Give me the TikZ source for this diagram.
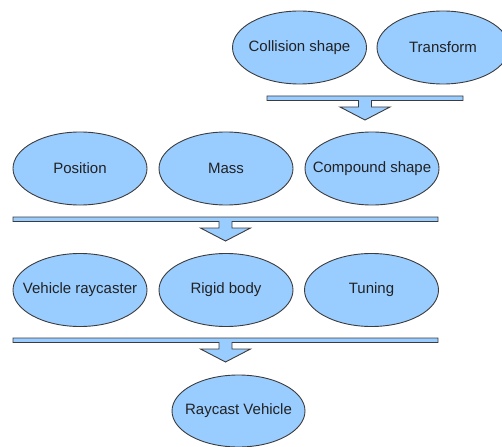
\documentclass[tikz,border=0pt]{standalone}
\usepackage{fontspec}
\setmainfont{Liberation Sans}
\usetikzlibrary{shapes.geometric}
\definecolor{bubble}{HTML}{99CCFF}
\definecolor{edge}{HTML}{3C3C3C}
\definecolor{ink}{HTML}{222222}
% zero-width label so the ellipse keeps its given size
\newcommand\flatlabel[1]{\raisebox{-1.5pt}{\makebox[0pt][c]{#1}}}
\tikzset{
  item/.style={ellipse, draw=edge, fill=bubble, line width=0.9pt,
    minimum width=134pt, minimum height=73pt, inner sep=0pt,
    text=ink, font=\fontsize{15}{16}\selectfont},
  % horizontal collector bar with a block arrow pointing down
  pics/merge/.style={code={
    \draw[draw=edge, fill=bubble, line width=0.9pt, line join=miter]
      (-#1,0) -- (#1,0) -- (#1,4.5) -- (6.5,4.5) -- (6.5,11) -- (25,11)
      -- (0,24) -- (-25,11) -- (-6.5,11) -- (-6.5,4.5) -- (-#1,4.5) -- cycle;
  }}
}
\begin{document}
\begin{tikzpicture}[x=1pt, y=-1pt]
\useasboundingbox (0,0) rectangle (502,446);
\clip (0,0) rectangle (502,446);

% first stage
\node[item] (collision) at (299.5,47.5) {\flatlabel{Collision shape}};
\node[item, minimum width=132pt] (transform) at (443,47.5) {\flatlabel{Transform}};
\pic (m1) at (365,96) {merge=98};

% second stage
\node[item] (position) at (80,168.5) {\flatlabel{Position}};
\node[item] (mass) at (226,168.5) {\flatlabel{Mass}};
\node[item] (compound) at (372,168.5) {\flatlabel{Compound shape}};
\pic (m2) at (225.5,217) {merge=212.5};

% third stage
\node[item] (raycaster) at (80,290) {\flatlabel{Vehicle raycaster}};
\node[item] (rigid) at (226,290) {\flatlabel{Rigid body}};
\node[item] (tuning) at (371.5,290) {\flatlabel{Tuning}};
\pic (m3) at (225.5,338) {merge=212.5};

% result
\node[item, minimum width=133pt, minimum height=72pt] (vehicle) at (238.5,411) {\flatlabel{Raycast Vehicle}};
\end{tikzpicture}
\end{document}
